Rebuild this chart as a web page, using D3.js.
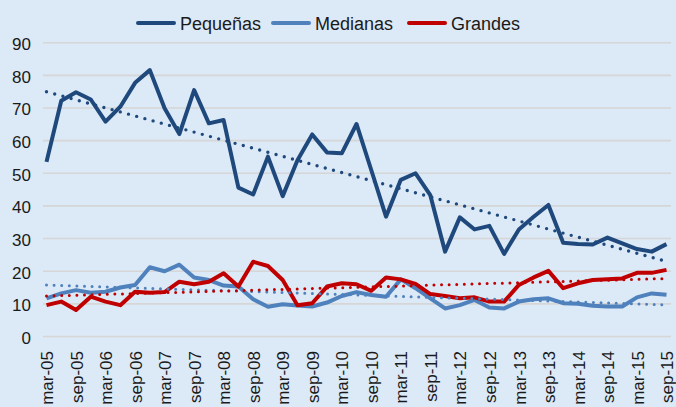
<!DOCTYPE html>
<meta charset="utf-8">
<style>
body {
  margin: 0;
  background: #dce9f6;
}

svg {
  display: block;
  background: #dce9f6;
  font-family: "Liberation Sans", Arial, sans-serif;
}

.grid line {
  stroke: #d6d6d6;
  stroke-width: 1.6px;
}

.axis text {
  font-size: 17px;
  fill: #1a1a1a;
}

.legend text {
  font-size: 18px;
  fill: #1a1a1a;
}

.series {
  fill: none;
  stroke-width: 4px;
  stroke-linejoin: round;
}

.trend {
  fill: none;
  stroke-linecap: round;
}
</style>
<svg width="676" height="407"></svg>
<script src="https://d3js.org/d3.v7.min.js"></script>
<script>

var svg = d3.select("svg"),
    width = +svg.attr("width"),
    height = +svg.attr("height");

var quarters = [
  "mar-05","jun-05","sep-05","dic-05","mar-06","jun-06","sep-06","dic-06",
  "mar-07","jun-07","sep-07","dic-07","mar-08","jun-08","sep-08","dic-08",
  "mar-09","jun-09","sep-09","dic-09","mar-10","jun-10","sep-10","dic-10",
  "mar-11","jun-11","sep-11","dic-11","mar-12","jun-12","sep-12","dic-12",
  "mar-13","jun-13","sep-13","dic-13","mar-14","jun-14","sep-14","dic-14",
  "mar-15","jun-15","sep-15"
];

var pequenas = [53.5, 72.2, 74.8, 72.6, 65.8, 70.4, 77.7, 81.6, 69.9, 62.0,
                75.5, 65.3, 66.3, 45.6, 43.5, 55.1, 43.0, 54.0, 61.9, 56.4,
                56.1, 65.1, 51.0, 36.7, 48.0, 50.0, 43.3, 26.0, 36.5, 32.8,
                33.9, 25.3, 32.8, 36.7, 40.3, 28.7, 28.3, 28.2, 30.3, 28.5,
                26.8, 26.0, 28.3];

var medianas = [11.7, 13.2, 14.2, 13.4, 13.7, 15.0, 15.8, 21.2, 20.0, 22.0,
                18.1, 17.3, 15.6, 15.3, 11.4, 9.1, 9.9, 9.5, 9.2, 10.4,
                12.4, 13.6, 12.7, 12.2, 17.5, 14.8, 11.7, 8.6, 9.6, 11.2,
                8.9, 8.6, 10.7, 11.4, 11.7, 10.2, 10.0, 9.4, 9.2, 9.2,
                12.0, 13.2, 12.8];

var grandes = [9.6, 10.7, 8.1, 12.2, 10.7, 9.6, 13.7, 13.4, 13.6, 16.8,
               16.0, 16.8, 19.4, 15.3, 22.9, 21.6, 17.3, 9.6, 10.2, 15.3,
               16.3, 16.0, 14.0, 18.1, 17.5, 16.1, 13.0, 12.4, 11.7, 12.0,
               10.7, 10.7, 15.8, 18.1, 20.1, 14.8, 16.3, 17.3, 17.5, 17.8,
               19.5, 19.5, 20.4];

var seriesNames = ["Pequeñas", "Medianas", "Grandes"];
var seriesColors = ["#1f497d", "#4f81bd", "#c00000"];
var yTicks = [0, 10, 20, 30, 40, 50, 60, 70, 80, 90];

var series = [pequenas, medianas, grandes];

var plot = {left: 43, right: 671, top: 42.7, bottom: 336.5};

var x = d3.scalePoint()
    .domain(quarters)
    .range([46.5, 666.5]);

var y = d3.scaleLinear()
    .domain([0, 90])
    .range([plot.bottom, plot.top]);

// grid
svg.append("g")
    .attr("class", "grid")
    .selectAll("line")
    .data(yTicks)
  .enter().append("line")
    .attr("x1", plot.left)
    .attr("x2", plot.right)
    .attr("y1", function(d) { return y(d); })
    .attr("y2", function(d) { return y(d); });

// y axis labels
var yAxis = svg.append("g")
    .attr("class", "axis")
    .attr("transform", "translate(31,0)")
    .call(d3.axisLeft(y).tickValues(yTicks).tickSize(0).tickPadding(0));
yAxis.select(".domain").remove();
yAxis.selectAll("text").attr("dy", "0.4em");

// x axis labels
var xAxis = svg.append("g")
    .attr("class", "axis")
    .attr("transform", "translate(0,351)")
    .call(d3.axisBottom(x)
      .tickValues(quarters.filter(function(q) { return q.slice(0, 3) != "dic" && q.slice(0, 3) != "jun"; }))
      .tickSize(0));
xAxis.select(".domain").remove();
xAxis.selectAll("text")
    .attr("transform", "rotate(-90)")
    .attr("text-anchor", "end")
    .attr("x", 0)
    .attr("y", 0)
    .attr("dy", "0.36em");

// series lines
var line = d3.line()
    .x(function(d, i) { return x(quarters[i]); })
    .y(function(d) { return y(d); });

svg.selectAll(".series")
    .data(series)
  .enter().append("path")
    .attr("class", "series")
    .attr("stroke", function(d, i) { return seriesColors[i]; })
    .attr("d", line);

// linear trends
function fit(vals) {
  var n = vals.length, sx = 0, sy = 0, sxy = 0, sxx = 0;
  vals.forEach(function(v, i) {
    sx += i; sy += v; sxy += i * v; sxx += i * i;
  });
  var b = (n * sxy - sx * sy) / (n * sxx - sx * sx);
  var a = (sy - b * sx) / n;
  return [a, a + b * (n - 1)];
}

svg.selectAll(".trend")
    .data(series)
  .enter().append("line")
    .attr("class", "trend")
    .attr("stroke", function(d, i) { return seriesColors[i]; })
    .attr("stroke-width", function(d, i) { return i == 0 ? 3.4 : 3; })
    .attr("stroke-dasharray", function(d, i) { return i == 0 ? "0,8.5" : "0,7.6"; })
    .attr("x1", x(quarters[0]))
    .attr("x2", x(quarters[quarters.length - 1]))
    .attr("y1", function(d) { return y(fit(d)[0]); })
    .attr("y2", function(d) { return y(fit(d)[1]); });

// legend
var legendX = [136, 271, 407];
var legend = svg.append("g")
    .attr("class", "legend")
    .selectAll("g")
    .data(seriesNames)
  .enter().append("g")
    .attr("transform", function(d, i) { return "translate(" + legendX[i] + ",23)"; });

legend.append("line")
    .attr("x1", 2)
    .attr("x2", 38)
    .attr("stroke", function(d, i) { return seriesColors[i]; })
    .attr("stroke-width", 4)
    .attr("stroke-linecap", "round");

legend.append("text")
    .attr("x", 44)
    .attr("y", 7)
    .text(function(d) { return d; });

</script>
